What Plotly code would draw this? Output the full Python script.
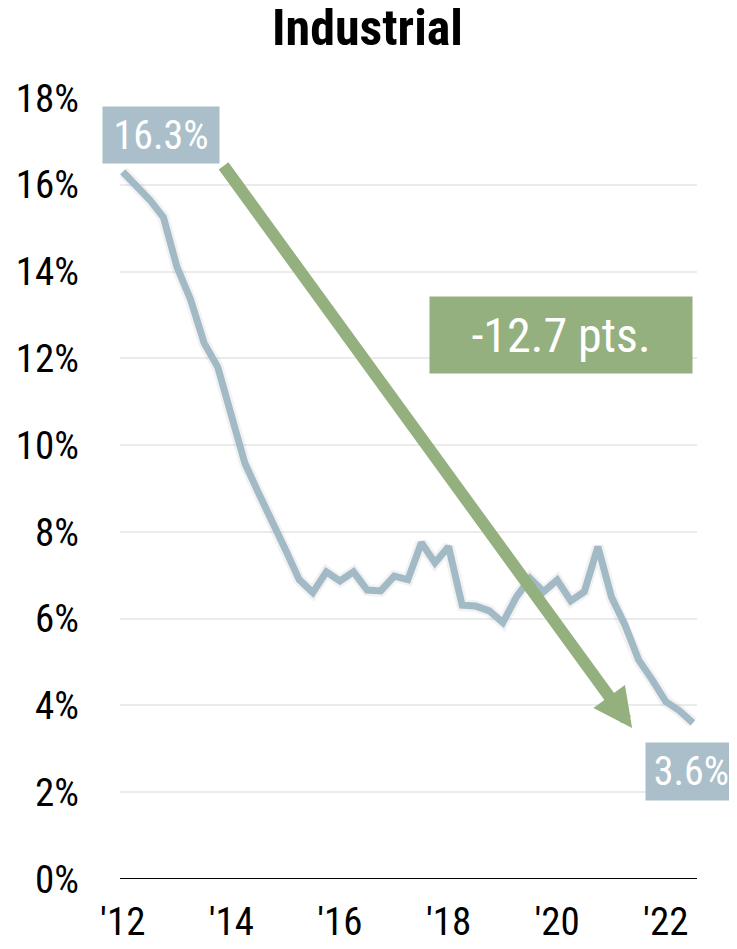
import plotly.graph_objects as go

# Quarterly vacancy rate, 2012 Q1 .. 2022 Q3
quarters = list(range(43))
vacancy = [16.3, 16.0, 15.65, 15.25, 14.1, 13.35, 12.35, 11.8, 10.65, 9.58,
           8.9, 8.19, 7.58, 6.9, 6.6, 7.08, 6.87, 7.08, 6.66, 6.64,
           6.98, 6.9, 7.75, 7.29, 7.66, 6.31, 6.29, 6.18, 5.91, 6.5,
           6.93, 6.62, 6.89, 6.41, 6.62, 7.66, 6.5, 5.85, 5.05, 4.59,
           4.09, 3.88, 3.6]
tick_positions = [0, 8, 16, 24, 32, 40]
tick_labels = ["'12", "'14", "'16", "'18", "'20", "'22"]
y_ticks = [0, 2, 4, 6, 8, 10, 12, 14, 16, 18]
y_tick_labels = [f"{v}%" for v in y_ticks]
title_text = "Industrial"
start_label = "16.3%"
end_label = "3.6%"
change_label = "-12.7 pts."

FONT = "Roboto Condensed, Liberation Sans Narrow, Arial Narrow, sans-serif"
LINE = "#a2bac5"
GREEN = "#93b07e"
BOX = "#aabfca"

# the page body adds an 8px offset; plot area should sit at x 120..697, y 98..879 on screen
OFF = 8


def px(xp):
    return (xp - 120) / 577


def py(yp):
    return (879 - yp) / 781


fig = go.Figure()
fig.add_trace(go.Scatter(x=quarters, y=vacancy, mode="lines",
                         line=dict(color="rgba(0,0,0,0.05)", width=12),
                         hoverinfo="skip", showlegend=False))
fig.add_trace(go.Scatter(x=quarters, y=vacancy, mode="lines",
                         line=dict(color=LINE, width=7),
                         showlegend=False))

fig.update_layout(
    width=737, height=949,
    margin=dict(l=120 - OFF, r=40 + OFF, t=98 - OFF, b=70 + OFF, autoexpand=False),
    paper_bgcolor="white", plot_bgcolor="white",
    font=dict(family=FONT, color="black"),
    title=dict(text=f"<b>{title_text}</b>", x=(367.5 - OFF) / 737, xref="container",
               xanchor="center", y=1 - (27 - OFF) / 949, yref="container", yanchor="middle",
               font=dict(size=50, family=FONT, color="black")),
    xaxis=dict(range=[-0.2, 42.3], tickmode="array", tickvals=tick_positions,
               ticktext=tick_labels, showgrid=False, zeroline=False, automargin=False,
               showline=False, ticks="", tickfont=dict(size=39, family=FONT),
               ticklabelstandoff=16),
    yaxis=dict(range=[0, 18], tickmode="array", tickvals=y_ticks, automargin=False,
               ticktext=y_tick_labels, showgrid=True, gridcolor="#ebebeb",
               gridwidth=2, zeroline=False, showline=False, ticks="",
               tickfont=dict(size=39, family=FONT), ticklabelstandoff=40),
    shapes=[dict(type="line", xref="paper", yref="y", x0=0, x1=1, y0=0, y1=0,
                 line=dict(color="black", width=2))],
    annotations=[
        dict(x=37.52, y=3.48, xref="x", yref="y", ax=7.35, ay=16.47,
             axref="x", ayref="y", text="", showarrow=True, arrowhead=2,
             arrowsize=0.65, arrowwidth=12, arrowcolor=GREEN, standoff=0),
        dict(x=px(161), y=py(135), xref="paper", yref="paper",
             xanchor="center", yanchor="middle",
             text=start_label, showarrow=False, bgcolor=BOX, width=112, height=52,
             borderpad=2, font=dict(size=40, color="white", family=FONT)),
        dict(x=px(691.5), y=py(771.5), xref="paper", yref="paper",
             xanchor="center", yanchor="middle",
             text=end_label, showarrow=False, bgcolor=BOX, width=87, height=53,
             borderpad=2, font=dict(size=40, color="white", family=FONT)),
        dict(x=px(561), y=py(335), xref="paper", yref="paper",
             xanchor="center", yanchor="middle",
             text=change_label, showarrow=False, bgcolor=GREEN, width=258, height=72,
             borderpad=2, font=dict(size=48, color="white", family=FONT)),
    ],
)

fig.write_html("out.html")
